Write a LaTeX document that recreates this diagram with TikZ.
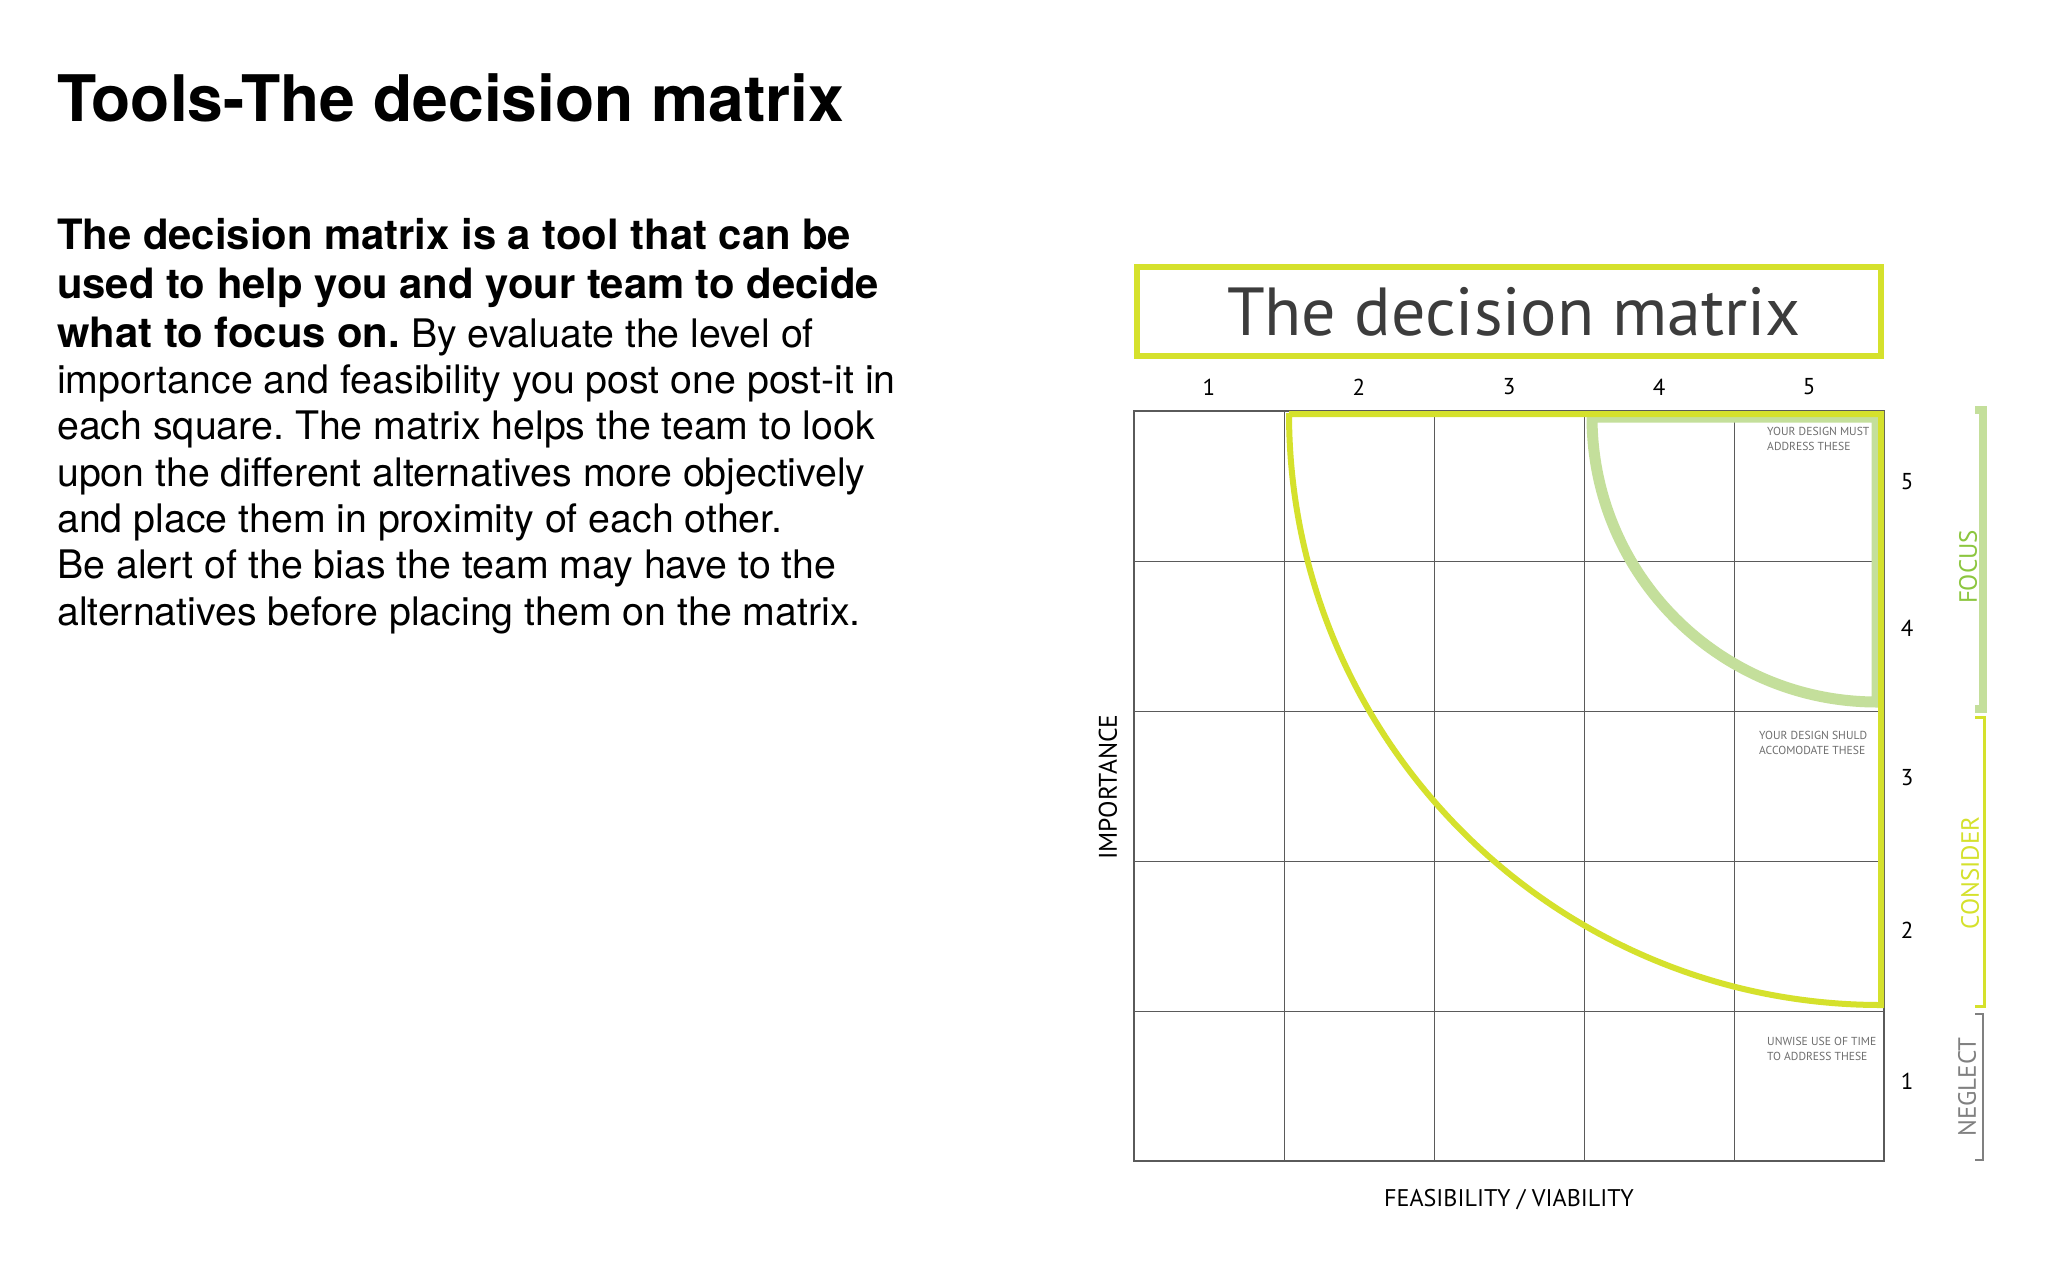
\documentclass[tikz,border=0pt]{standalone}
\usepackage{fontspec}
\setmainfont{TeX Gyre Heros}
\newfontfamily\matfont{PT Sans}
\usetikzlibrary{calc}
\definecolor{limeyel}{HTML}{D5E12C}
\definecolor{leafgrn}{HTML}{C4DF9B}
\definecolor{focusgrn}{HTML}{8CC63F}
\definecolor{gridgray}{HTML}{5A5A5A}
\definecolor{notegray}{HTML}{6E6E6E}
\definecolor{titlegray}{HTML}{3C3C3C}
\frenchspacing

\begin{document}
\begin{tikzpicture}[x=1pt,y=-1pt,
    gridline/.style={draw=gridgray, line width=0.9pt},
    numlabel/.style={font=\matfont\fontsize{23}{23}\selectfont, inner sep=0},
    notetext/.style={font=\matfont\fontsize{11.6}{15}\selectfont, text=notegray, align=left, anchor=north west, inner sep=0},
    sidetext/.style={font=\matfont\fontsize{25}{25}\selectfont, rotate=90, inner sep=0}]
    \useasboundingbox (0,0) rectangle (2048,1280);
    \fill[white] (0,0) rectangle (2048,1280);

    % judul dan teks
    \node[anchor=base west, inner sep=0, font=\fontsize{64.2}{70}\selectfont\bfseries] (title) at (57,121) {Tools-The decision matrix};
    \node[anchor=north west, inner sep=0, align=left, font=\fontsize{39.3}{46.3}\selectfont] (body) at (57,218)
        {{\fontsize{41.8}{46.3}\selectfont\bfseries The decision matrix is a tool that can be}\\[2.7pt]
         {\fontsize{41.8}{46.3}\selectfont\bfseries used to help you and your team to decide}\\[2.7pt]
         {\fontsize{41.8}{46.3}\selectfont\bfseries what to focus on.} By evaluate the level of\\
         importance and feasibility you post one post-it in\\
         each square. The matrix helps the team to look\\
         upon the different alternatives more objectively\\
         and place them in proximity of each other.\\
         Be alert of the bias the team may have to the\\
         alternatives before placing them on the matrix.};

    % kotak judul matriks
    \node[draw=limeyel, line width=6pt, minimum width=744, minimum height=89, inner sep=0] (mbox) at (1509,311.5) {};
    \node[font=\matfont\fontsize{68}{68}\selectfont, text=titlegray, inner sep=0] (mtitle) at ($(mbox.center)+(5,0)$) {The decision matrix};

    % titik-titik sudut matriks
    \coordinate (TL) at (1134,411);
    \coordinate (TR) at (1884,411);
    \coordinate (BL) at (1134,1161);
    \coordinate (BR) at (1884,1161);

    % pembuatan grid
    \draw[gridline] ($(TL)!0.2!(TR)$) -- ($(BL)!0.2!(BR)$);
    \draw[gridline] ($(TL)!0.4!(TR)$) -- ($(BL)!0.4!(BR)$);
    \draw[gridline] ($(TL)!0.6!(TR)$) -- ($(BL)!0.6!(BR)$);
    \draw[gridline] ($(TL)!0.8!(TR)$) -- ($(BL)!0.8!(BR)$);
    \draw[gridline] ($(TL)!0.2!(BL)$) -- ($(TR)!0.2!(BR)$);
    \draw[gridline] ($(TL)!0.4!(BL)$) -- ($(TR)!0.4!(BR)$);
    \draw[gridline] ($(TL)!0.6!(BL)$) -- ($(TR)!0.6!(BR)$);
    \draw[gridline] ($(TL)!0.8!(BL)$) -- ($(TR)!0.8!(BR)$);
    \draw[draw=gridgray, line width=1.6pt] (TL) rectangle (BR);

    % daerah focus dan consider
    \draw[leafgrn, line width=11pt] (1592,417) -- (1877,417) -- (1877,702) arc[start angle=90, end angle=180, radius=285];
    \draw[limeyel, line width=6pt] (1289,414) -- (1881,414) -- (1881,1005) arc[start angle=90, end angle=180, radius=592];

    % angka sumbu
    \node[numlabel] (c1) at (1209,387) {1};
    \node[numlabel] (c2) at (1359,387) {2};
    \node[numlabel] (c3) at (1509,387) {3};
    \node[numlabel] (c4) at (1659,387) {4};
    \node[numlabel] (c5) at (1809,387) {5};
    \node[numlabel] (r5) at (1907,482) {5};
    \node[numlabel] (r4) at (1907,628) {4};
    \node[numlabel] (r3) at (1907,778) {3};
    \node[numlabel] (r2) at (1907,930) {2};
    \node[numlabel] (r1) at (1907,1081) {1};

    % label sumbu
    \node[font=\matfont\fontsize{25.5}{25.5}\selectfont, rotate=90, inner sep=0] (imp) at (1108,787) {IMPORTANCE};
    \node[font=\matfont\fontsize{24.1}{24.1}\selectfont, inner sep=0] (feas) at (1509,1200) {FEASIBILITY / VIABILITY};

    % catatan sel
    \node[notetext] (must) at (1767,427) {YOUR DESIGN MUST\\ADDRESS THESE};
    \node[notetext] (should) at (1759,731) {YOUR DESIGN SHULD\\ACCOMODATE THESE};
    \node[notetext] (unwise) at (1767,1037) {UNWISE USE OF TIME\\TO ADDRESS THESE};

    % kurung samping
    \coordinate (f1) at (1975,410);
    \coordinate (f2) at (1975,709);
    \draw[leafgrn, line width=8pt] (f1) -- ($(f1)+(8,0)$) -- ($(f2)+(8,0)$) -- (f2);
    \coordinate (k1) at (1975,717);
    \coordinate (k2) at (1975,1006);
    \draw[limeyel, line width=3pt] (k1) -- ($(k1)+(9,0)$) -- ($(k2)+(9,0)$) -- (k2);
    \coordinate (n1) at (1975,1014);
    \coordinate (n2) at (1975,1160);
    \draw[gray, line width=1.5pt] (n1) -- ($(n1)+(8,0)$) -- ($(n2)+(8,0)$) -- (n2);
    \node[sidetext, text=focusgrn] (focus) at (1968,567) {FOCUS};
    \node[sidetext, text=limeyel] (consider) at (1970,873) {CONSIDER};
    \node[sidetext, text=gray] (neglect) at (1967,1087) {NEGLECT};
\end{tikzpicture}
\end{document}
